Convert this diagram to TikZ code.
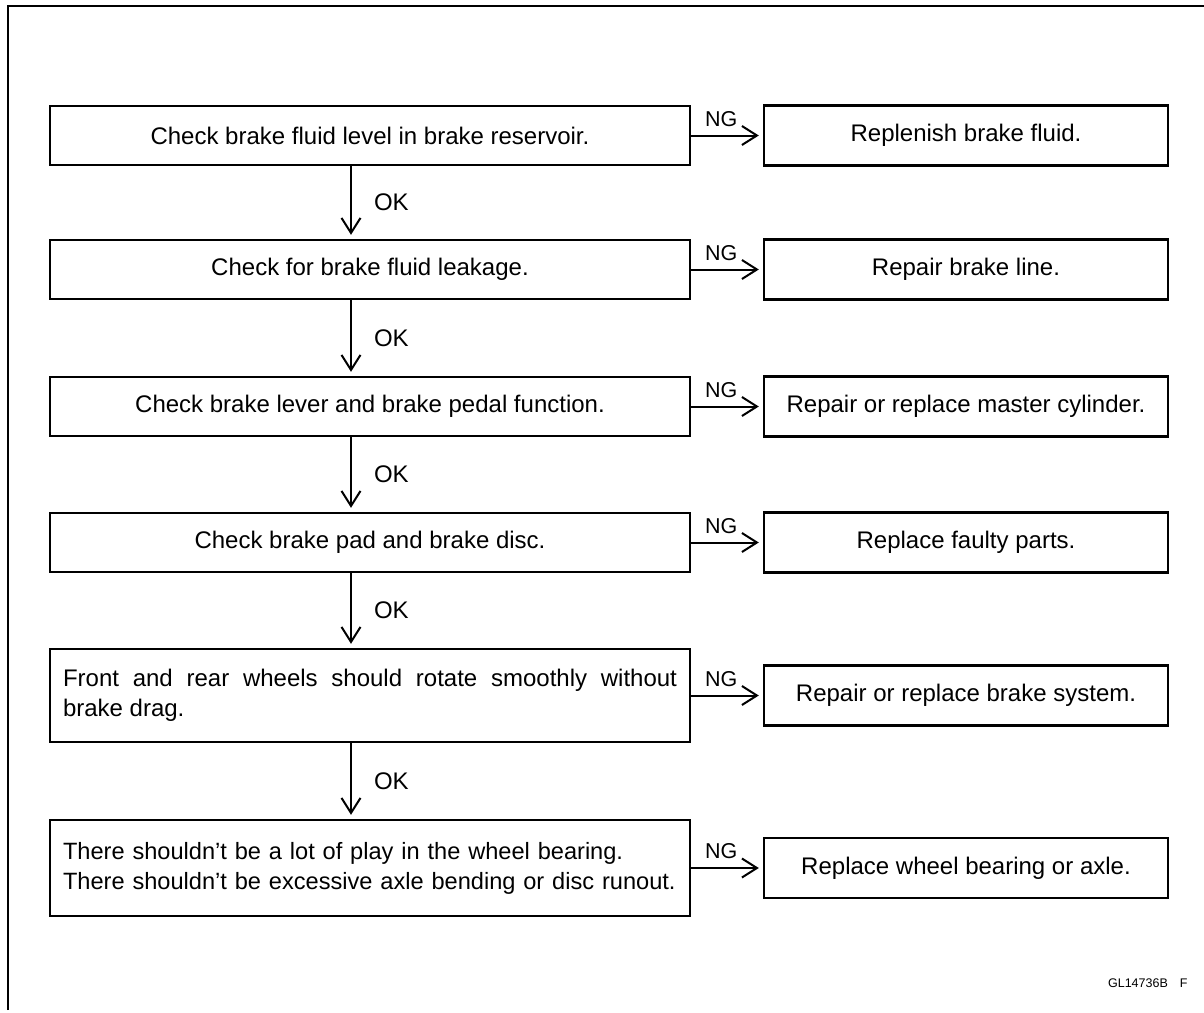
\documentclass[tikz,border=0pt]{standalone}
\usepackage{fontspec}
\setmainfont{Liberation Sans}
\usetikzlibrary{arrows.meta}

\begin{document}
\begin{tikzpicture}[x=1pt, y=-1pt,
        every node/.style={font=\fontsize{24}{30}\selectfont},
        checkbox/.style={draw, line width=2.4pt, minimum width=640pt,
          minimum height=59pt, inner sep=0pt},
        wordbox/.style={checkbox, text width=614pt},
        fixbox/.style={draw, line width=2.4pt, minimum width=404pt,
          minimum height=60pt, inner sep=0pt},
        flow/.style={line width=2pt, shorten >=4pt,
          -{Straight Barb[length=15pt, width=19pt, line width=2pt]}},
        tag/.style={font=\fontsize{21.5}{21.5}\selectfont, inner sep=0pt}]
      \useasboundingbox (0,0) rectangle (1204,1012);
      % sheet frame (cut at right and bottom)
      \draw[line width=2pt] (8,1010) -- (8,6) -- (1204,6);
      % checks
      \node[checkbox] (chk1) at (370,135.5) {Check brake fluid level in brake reservoir.};
      \node[checkbox] (chk2) at (370,269.5) {Check for brake fluid leakage.};
      \node[checkbox] (chk3) at (370,406.5) {Check brake lever and brake pedal function.};
      \node[checkbox] (chk4) at (370,542.5) {Check brake pad and brake disc.};
      \node[wordbox, align=justify, minimum height=93pt] (chk5) at (370,695.5)
        {Front and rear wheels should rotate smoothly without\linebreak brake drag.};
      \node[wordbox, align=left, minimum height=96pt,
            font=\fontsize{23.6}{30}\selectfont] (chk6) at (370,868)
        {\mbox{There shouldn’t be a lot of play in the wheel bearing.}\\
         \mbox{There shouldn’t be excessive axle bending or disc runout.}};
      % remedies
      \node[fixbox] (fix1) at (966,135.5) {Replenish brake fluid.};
      \node[fixbox] (fix2) at (966,269.5) {Repair brake line.};
      \node[fixbox] (fix3) at (966,406.5) {Repair or replace master cylinder.};
      \node[fixbox] (fix4) at (966,542.5) {Replace faulty parts.};
      \node[fixbox] (fix5) at (966,695.5) {Repair or replace brake system.};
      \node[fixbox] (fix6) at (966,868) {Replace wheel bearing or axle.};
      % OK path
      \foreach \a/\b in {chk1/chk2, chk2/chk3, chk3/chk4, chk4/chk5, chk5/chk6}
        \draw[flow] ([xshift=-19pt]\a.south) -- ([xshift=-19pt]\b.north)
          node[tag, midway, right=22pt, font=\fontsize{24}{24}\selectfont] {OK};
      % NG path
      \foreach \i in {1,...,6}
        \draw[flow] (chk\i.east) -- (fix\i.west)
          node[tag, pos=0.42, above=8pt] {NG};
      \node[font=\fontsize{12.5}{12.5}\selectfont, anchor=east] (ref) at (1191,983)
        {GL14736B\hspace{12pt}F};
    \end{tikzpicture}
\end{document}
